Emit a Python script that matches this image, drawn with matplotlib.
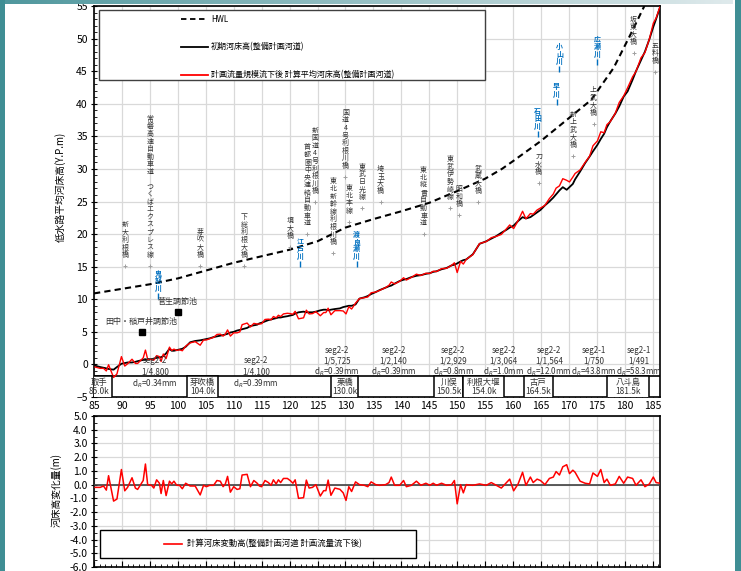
import matplotlib.pyplot as plt
import matplotlib.patches as mpatches
from matplotlib.lines import Line2D
import numpy as np

plt.rcParams["font.family"] = ["Noto Sans CJK JP", "DejaVu Sans"]

# river distance (km) of each cross section
km = [85.2, 86.1, 86.7, 87.2, 87.6, 88.5, 89.1, 89.9, 90.5, 91.0, 91.8, 92.4, 92.8, 93.8, 94.2,
      94.6, 95.3, 95.7, 96.2, 96.7, 97.0, 97.4, 97.9, 98.5, 98.9, 99.3, 99.8, 100.3, 100.8, 101.4,
      102.2, 103.1, 104.0, 104.6, 105.1, 105.7, 106.4, 107.0, 107.6, 108.1, 108.5, 108.9, 109.4,
      110.0, 110.6, 111.1, 111.5, 112.4, 113.0, 113.6, 114.2, 114.6, 115.0, 115.6, 116.2, 116.7,
      117.1, 117.6, 118.0, 118.4, 118.9, 119.6, 120.1, 120.6, 121.0, 121.6, 122.5, 123.0, 123.5,
      124.1, 124.7, 125.5, 126.1, 126.5, 126.9, 127.4, 128.1, 129.0, 129.6, 130.1, 130.6, 131.1,
      131.8, 132.5, 133.4, 134.0, 134.6, 135.4, 136.1, 137.2, 137.8, 138.2, 138.8, 139.7, 140.4,
      140.9, 141.8, 142.7, 143.5, 144.4, 145.1, 145.7, 146.3, 147.2, 148.1, 149.0, 149.5, 150.0,
      150.6, 151.1, 151.6, 152.8, 154.0, 155.2, 156.1, 157.0, 157.9, 158.7, 159.4, 160.1, 160.9,
      161.7, 162.3, 163.1, 163.6, 164.3, 164.9, 165.7, 166.5, 167.2, 167.7, 168.3, 168.9, 169.6,
      170.1, 170.7, 171.1, 172.0, 172.9, 173.7, 174.3, 175.1, 175.7, 176.3, 176.8, 177.4, 178.3,
      179.0, 179.8, 180.5, 181.4, 182.0, 182.9, 183.6, 184.4, 185.1, 185.6, 186.3]

# initial bed (planned channel), Y.P.m
bed_initial = [-0.2, -0.4, -0.5, -0.6, -0.7, -0.8, -0.4, 0.1, 0.2, 0.3, 0.3, 0.4, 0.5, 0.7, 0.7,
               0.8, 0.8, 0.9, 1.0, 1.1, 1.1, 1.3, 1.7, 2.4, 2.1, 2.1, 2.2, 2.3, 2.4, 2.7,
               3.4, 3.6, 3.7, 3.8, 3.9, 4.0, 4.2, 4.3, 4.4, 4.5, 4.6, 4.7, 4.9,
               5.0, 5.2, 5.3, 5.4, 5.6, 5.9, 6.0, 6.1, 6.3, 6.4, 6.6, 6.8, 6.9,
               7.0, 7.1, 7.2, 7.2, 7.3, 7.4, 7.5, 7.6, 7.8, 8.0, 8.1, 8.0, 8.0,
               8.0, 8.1, 8.3, 8.4, 8.4, 8.3, 8.4, 8.5, 8.6, 8.8, 8.9, 9.0, 9.0,
               9.2, 10.1, 10.3, 10.5, 10.8, 11.1, 11.4, 11.8, 12.0, 12.1, 12.4, 12.8, 13.0,
               13.1, 13.4, 13.6, 13.7, 13.9, 14.0, 14.2, 14.3, 14.6, 14.8, 15.2, 15.3, 15.5,
               15.8, 16.0, 16.1, 16.9, 18.5, 18.9, 19.3, 19.7, 20.2, 20.6, 21.0, 21.3, 22.0,
               22.6, 22.4, 22.6, 22.9, 23.3, 23.7, 24.4, 25.0, 25.6, 26.1, 26.7, 27.2, 26.8,
               27.2, 27.7, 28.4, 29.6, 30.9, 31.9, 32.7, 33.7, 34.6, 35.4, 36.4, 37.3, 38.5,
               39.6, 41.1, 41.9, 43.7, 45.0, 46.7, 48.0, 49.9, 51.8, 53.0, 54.8]

# computed bed change after the planned flood, m
bed_change = [-0.2, -0.2, -0.1, -0.4, 0.65, -1.2, -1.05, 1.1, -0.45, -0.2, 0.5, -0.25, -0.35, 0.3, 1.5,
              0.0, -0.05, -0.25, 0.35, 0.1, -0.65, 0.3, -0.8, 0.25, 0.05, 0.25, -0.05, -0.05, -0.3, 0.1,
              -0.1, -0.1, -0.75, -0.05, -0.15, -0.05, -0.05, 0.3, 0.25, -0.15, 0.05, 0.6, -0.55,
              -0.15, -0.35, -0.3, 0.7, 0.75, -0.15, 0.3, 0.1, -0.1, -0.15, 0.3, 0.15, -0.05,
              0.35, 0.05, 0.35, 0.15, 0.45, 0.45, 0.3, 0.1, 0.35, -1.0, -0.95, 0.33, -0.25,
              -0.2, 0.0, -0.83, -0.44, -0.44, 0.33, -0.78, -0.25, -0.34, -0.6, -1.15, -0.15, -0.5,
              0.2, 0.0, -0.05, -0.15, 0.2, 0.0, -0.05, 0.0, 0.15, 0.55, -0.05, -0.05, 0.3,
              -0.15, -0.05, 0.25, -0.05, 0.1, -0.05, 0.1, -0.05, 0.1, -0.05, 0.0, 0.3, -1.4,
              0.0, -0.6, 0.0, -0.05, 0.05, -0.05, 0.15, -0.05, -0.25, 0.1, 0.4, -0.45, 0.05,
              0.9, -0.05, 0.55, 0.15, 0.4, 0.3, 0.0, 0.45, 0.55, 0.95, 0.7, 1.3, 1.45,
              0.8, 1.05, 0.9, 0.25, 0.1, 0.05, 0.85, 0.6, 1.1, 0.15, 0.4, -0.05, 0.05,
              0.6, 0.1, 0.55, 0.45, -0.05, 0.35, -0.15, 0.05, 0.55, 0.15, 0.1]

# high water level
hwl_km = [85, 90, 95, 100, 105, 110, 115, 120, 125, 130, 135, 140, 145, 150, 155, 158, 160,
          165, 170, 174, 178, 181, 183.5]
hwl = [10.9, 11.6, 12.3, 13.2, 14.4, 15.6, 16.6, 17.6, 18.9, 21.0, 22.3, 23.5, 24.8, 26.6,
       28.5, 30.0, 31.2, 34.3, 37.8, 40.6, 45.5, 50.6, 55.0]

# bridges / crossings
bridge_names = ["新大利根橋", "常磐高速自動車道 つくばエクスプレス線", "芽吹大橋", "下総利根大橋", "境大橋",
                "首都圏中央連絡自動車道", "新国道4号利根川橋", "東北新幹線利根川橋", "国道4号利根川橋",
                "東北本線", "東武日光線", "埼玉大橋", "東北縦貫自動車道", "東武伊勢崎線", "昭和橋",
                "武蔵大橋", "刀水橋", "新上武大橋", "上武大橋", "坂東大橋", "五料橋"]
bridge_km = [90.6, 95.0, 104.0, 111.9, 120.1, 123.2, 124.6, 127.8, 130.0, 130.7, 133.0, 136.3,
             144.0, 148.8, 150.4, 153.8, 164.6, 170.8, 174.4, 181.6, 185.4]
bridge_el = [15.1, 15.1, 15.1, 15.1, 18.0, 20.0, 24.9, 17.1, 28.8, 21.9, 24.0, 24.9,
             20.0, 24.0, 22.9, 24.9, 27.8, 32.0, 36.9, 47.8, 44.9]

# tributary confluences
trib_names = ["鬼怒川", "江戸川", "渡良瀬川", "石田川", "早川", "小山川", "広瀬川"]
trib_km = [96.5, 121.9, 132.0, 164.4, 167.8, 168.3, 175.1]
trib_el = [10.5, 15.4, 15.4, 35.4, 40.3, 45.3, 46.4]

# retarding basins
basin_names = ["田中・稲戸井調節池", "菅生調節池"]
basin_km = [93.5, 100.0]
basin_el = [5.0, 8.0]

# channel segments
seg_km = [95.9, 114.0, 128.5, 138.6, 149.3, 158.3, 166.4, 174.4, 182.5]
seg_name = ["seg2-2"] * 7 + ["seg2-1"] * 2
seg_slope = ["1/4,800", "1/4,100", "1/5,725", "1/2,140", "1/2,929", "1/3,064", "1/1,564",
             "1/750", "1/491"]
seg_dr = ["0.34", "0.39", "0.39", "0.39", "0.8", "1.0", "12.0", "43.8", "58.3"]

# reference stations
station_names = ["取手", "芽吹橋", "栗橋", "川俣", "利根大堰", "古戸", "八斗島"]
station_km = ["85.0k", "104.0k", "130.0k", "150.5k", "154.0k", "164.5k", "181.5k"]

bed_calc = np.array(bed_initial) + np.array(bed_change)

label_color = "#333333"
blue = "#0070c0"


def vertical_text(ax, x, y, s, pitch, gap, **kw):
    # stack characters upward from (x, y) with a fixed pitch in points
    n = len(s)
    for i, ch in enumerate(s):
        if ch == " ":
            continue
        ax.annotate(ch, (x, y), xytext=(0, gap + (n - 1 - i) * pitch),
                    textcoords="offset points", ha="center", va="bottom",
                    annotation_clip=False, **kw)


fig = plt.figure(figsize=(7.41, 5.71), dpi=100)
ax = fig.add_axes([0.1269, 0.3047, 0.7638, 0.6848])
ax2 = fig.add_axes([0.1269, 0.0070, 0.7638, 0.2645])

# frame decoration
fig.patches.append(mpatches.Rectangle((0, 0), 5 / 741, 1, transform=fig.transFigure,
                                      fc="#3f8e94", ec="none"))
fig.patches.append(mpatches.Rectangle((735 / 741, 0), 6 / 741, 1, transform=fig.transFigure,
                                      fc="#3f8e94", ec="none"))
bar = fig.add_axes([0, 1 - 4 / 571, 733 / 741, 4 / 571])
bar.imshow(np.linspace(0, 1, 256)[None, :], aspect="auto",
           cmap=plt.matplotlib.colors.LinearSegmentedColormap.from_list("bar", ["#4f979d", "#dfeaec"]))
bar.axis("off")

# ---- upper panel: bed profile
ax.plot(hwl_km, hwl, color="black", lw=1.5, ls=(0, (3, 2)), zorder=3)
ax.plot(km, bed_initial, color="black", lw=1.3, zorder=3)
ax.plot(km, bed_calc, color="#ff0000", lw=1.0, zorder=4)

ax.set_xlim(85, 186.3)
ax.set_ylim(-5, 55)
ax.set_xticks(np.arange(85, 186, 5))
ax.set_xticks(np.arange(85, 187, 1), minor=True)
ax.set_yticks(np.arange(-5, 56, 5))
ax.set_yticks(np.arange(-5, 56, 1), minor=True)
ax.tick_params(axis="x", which="major", direction="in", length=4, labelsize=7.5, pad=3)
ax.tick_params(axis="x", which="minor", direction="in", length=2)
ax.tick_params(axis="y", which="major", direction="inout", length=5, labelsize=7.5, pad=2)
ax.tick_params(axis="y", which="minor", direction="in", length=2)
ax.grid(True, color="#d9d9d9", lw=0.9)
ax.set_axisbelow(True)
for s in ax.spines.values():
    s.set_linewidth(1.2)
ax.set_ylabel("低水路平均河床高(Y.P.m)", fontsize=7)
ax.yaxis.set_label_coords(-0.049, 0.537)

# strip below the profile
ax.add_patch(mpatches.Rectangle((85, -5), 101.3, 3.2, fc="white", ec="none", zorder=1))
ax.axhline(-1.8, color="black", lw=1.2, zorder=3)

for x, el, name in zip(bridge_km, bridge_el, bridge_names):
    ax.plot(x, el, marker="+", ms=3, color="#a0a0a0", mew=0.7, zorder=3)
    vertical_text(ax, x, el, name, pitch=5.45, gap=5.0, fontsize=5.0,
                  color=label_color, zorder=5)

for x, el, name in zip(trib_km, trib_el, trib_names):
    ax.plot(x, el, marker="|", ms=5, color=blue, mew=1.0, zorder=3)
    vertical_text(ax, x, el, name, pitch=5.35, gap=3.0, fontsize=5.0,
                  fontweight="bold", color=blue, zorder=5)

for x, el, name in zip(basin_km, basin_el, basin_names):
    ax.plot(x, el, marker="s", ms=5, color="black", zorder=5)
    ax.text(x, el + 1.6, name, ha="center", va="center", fontsize=5.8,
            color=label_color, zorder=5)

seg_rows = [[0.53, -1.16, -3.0]] * 2 + [[2.21, 0.53, -1.16]] * 7
for x, nm, sl, dr, ys in zip(seg_km, seg_name, seg_slope, seg_dr, seg_rows):
    for s, y in zip([nm, sl, "d$_R$=" + dr + "mm"], ys):
        ax.text(x, y, s, ha="center", va="center", fontsize=5.8, color=label_color, zorder=5)

box_left = [83.7, 101.7, 127.5, 145.9, 151.1, 161.9, 176.8]
box_width = [4.5, 5.4, 4.8, 5.2, 7.3, 5.2, 7.5]
for x0, w, nm, k in zip(box_left, box_width, station_names, station_km):
    ax.add_patch(mpatches.Rectangle((x0, -5.2), w, 3.4, fc="white", ec="black", lw=1.1,
                                    zorder=4, clip_on=True))
    ax.text(x0 + w / 2, -3.5, nm + "\n" + k, ha="center", va="center", fontsize=6,
            linespacing=1.0, color=label_color, zorder=5)

# legend
ax.add_patch(mpatches.Rectangle((0.0088, 0.811), 0.682, 0.179, transform=ax.transAxes,
                                fc="white", ec="#404040", lw=1.0, zorder=6))
handles = [Line2D([], [], color="black", lw=1.3, ls=(0, (3, 2))),
           Line2D([], [], color="black", lw=1.3),
           Line2D([], [], color="#ff0000", lw=1.3)]
labels = ["HWL", "初期河床高(整備計画河道)", "計画流量規模流下後 計算平均河床高(整備計画河道)"]
leg = ax.legend(handles, labels, loc="upper left", bbox_to_anchor=(0.148, 0.985),
                frameon=False, fontsize=5.8, handlelength=3.3, labelspacing=2.3,
                handletextpad=0.4, borderaxespad=0)
leg.set_zorder(7)

# ---- lower panel: bed change
ax2.plot(km, bed_change, color="#ff0000", lw=1.1, zorder=4)
ax2.axhline(0, color="#404040", lw=1.2, zorder=3)
ax2.set_xlim(85, 186.3)
ax2.set_ylim(-6, 5)
ax2.set_xticks(np.arange(85, 186, 5))
ax2.set_xticks(np.arange(85, 187, 1), minor=True)
ax2.set_yticks(np.arange(-6, 5.1, 1))
ax2.set_yticks(np.arange(-6, 5.1, 0.5), minor=True)
ax2.set_yticklabels([f"{v:.1f}" for v in np.arange(-6, 5.1, 1)])
ax2.tick_params(axis="x", which="major", direction="in", length=4, labelbottom=False)
ax2.tick_params(axis="x", which="minor", direction="in", length=2)
ax2.tick_params(axis="y", which="major", direction="inout", length=5, labelsize=7.5, pad=2)
ax2.tick_params(axis="y", which="minor", direction="in", length=2)
ax2.grid(True, color="#d9d9d9", lw=0.9)
ax2.set_axisbelow(True)
for s in ax2.spines.values():
    s.set_linewidth(1.2)
ax2.set_ylabel("河床高変化量(m)", fontsize=7)
ax2.yaxis.set_label_coords(-0.057, 0.51)

ax2.add_patch(mpatches.Rectangle((0.0106, 0.06), 0.558, 0.185, transform=ax2.transAxes,
                                 fc="white", ec="black", lw=1.0, zorder=6))
leg2 = ax2.legend([Line2D([], [], color="#ff0000", lw=1.2)],
                  ["計算河床変動高(整備計画河道 計画流量流下後)"], loc="center left",
                  bbox_to_anchor=(0.118, 0.152), frameon=False, fontsize=6,
                  handlelength=2.2, handletextpad=0.5, borderaxespad=0)
leg2.set_zorder(7)

fig.savefig("out.png", dpi=100)
